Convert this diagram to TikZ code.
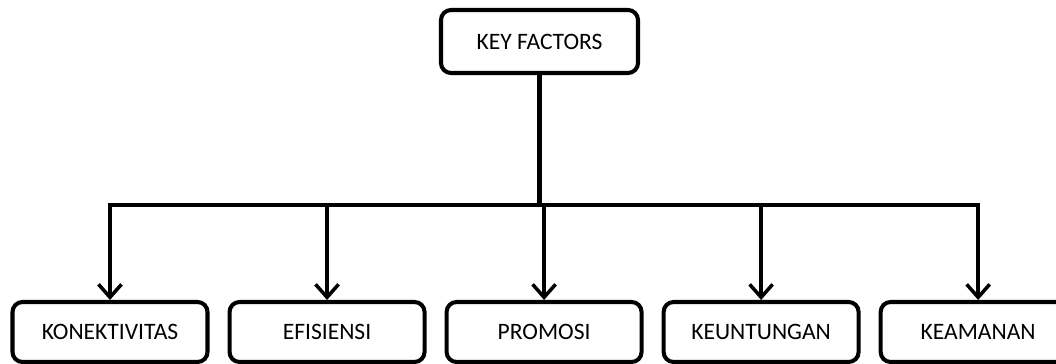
\documentclass[tikz,border=0pt]{standalone}
\usepackage{fontspec}
\setmainfont{Carlito}
\usepackage{tikz}
\usetikzlibrary{arrows.meta,positioning}

\begin{document}
\begin{tikzpicture}[
  node distance=3.6mm,
  box/.style={rectangle,rounded corners=2mm,draw=black,line width=2.3pt,fill=white,align=center,font=\fontsize{13.4}{16}\selectfont,minimum width=39mm,minimum height=12mm},
  arr/.style={-{Straight Barb[length=2.6mm,width=4.6mm,line width=2pt]},line width=2.3pt,draw=black}
]
\useasboundingbox (0,0) rectangle (21.12,-7.28);
\node[box,minimum width=39.4mm,minimum height=12.6mm] (factors) at (10.79,-0.83) {KEY FACTORS};
\node[box] (konektivitas) at (2.2,-6.64) {KONEKTIVITAS};
\node[box,right=of konektivitas] (efisiensi) {EFISIENSI};
\node[box,right=of efisiensi] (promosi) {PROMOSI};
\node[box,right=of promosi] (keuntungan) {KEUNTUNGAN};
\node[box,right=of keuntungan] (keamanan) {KEAMANAN};
\coordinate (bar) at (0,-4.1);
\foreach \n in {konektivitas,efisiensi,promosi,keuntungan,keamanan}
  \draw[arr] (factors.south) -- (factors.south |- bar) -| (\n.north);
\end{tikzpicture}
\end{document}
